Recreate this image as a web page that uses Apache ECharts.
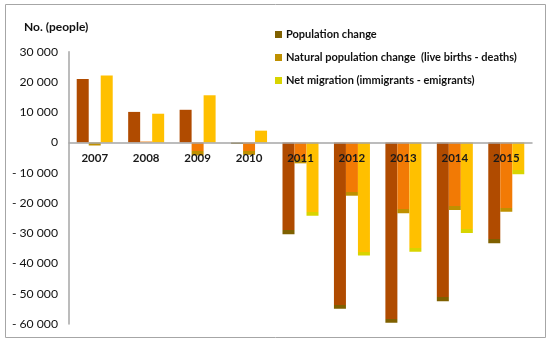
<!DOCTYPE html>
<html><head><meta charset="utf-8">
<script src="https://cdn.jsdelivr.net/npm/echarts@6/dist/echarts.min.js"></script>
<style>html,body{margin:0;padding:0;background:#fff}#c{width:550px;height:344px}</style>
</head><body><div id="c"></div>
<script>
const years = ['2007','2008','2009','2010','2011','2012','2013','2014','2015'];
const populationChange = [21000, 10100, 10800, -500, -30300, -55000, -59600, -52500, -33300];
const naturalChange = [-1000, 300, -4300, -4100, -6900, -17600, -23400, -22300, -22900];
const netMigration = [22100, 9500, 15600, 3900, -24200, -37400, -36100, -29900, -10500];
const seriesNames = ['Population change', 'Natural population change  (live births - deaths)', 'Net migration (immigrants - emigrants)'];
const yMin = -60000, yMax = 30000, yStep = 10000;

const FONT = 'Lato, "Open Sans", sans-serif';
const mainColors = ['#B04B00', '#F27A05', '#FFC000'];
const endColors = ['#7F6000', '#BF9000', '#D8D400'];
const gridTop = 51.7, gridBottom = 20, H = 344;
const plotH = H - gridTop - gridBottom;
const pxPerUnit = plotH / (yMax - yMin);
const zeroOffset = -(0 - yMin) * pxPerUnit;

function styledData(vals, i) {
  return vals.map(v => {
    const h = Math.abs(v) * pxPerUnit;
    if (v >= 0 || h < 6) {
      return { value: v, itemStyle: { color: v < 0 && h < 6 ? endColors[i] : mainColors[i] } };
    }
    const s = Math.max(0, 1 - 4 / h);
    return {
      value: v,
      itemStyle: {
        color: new echarts.graphic.LinearGradient(0, 0, 0, 1, [
          { offset: 0, color: mainColors[i] },
          { offset: s, color: mainColors[i] },
          { offset: Math.min(1, s + 0.001), color: endColors[i] },
          { offset: 1, color: endColors[i] }
        ])
      }
    };
  });
}

function fmt(v) {
  const a = Math.abs(v);
  let s = a >= 1000 ? Math.floor(a / 1000) + ' ' + String(a % 1000).padStart(3, '0') : String(a);
  return v < 0 ? '- ' + s : s;
}

const chart = echarts.init(document.getElementById('c'), null, { renderer: 'canvas' });
chart.setOption({
  animation: false,
  backgroundColor: '#fff',
  graphic: [
    { type: 'rect', shape: { x: 5.5, y: 4.5, width: 540, height: 333 }, style: { fill: 'none', stroke: '#a6a6a6', lineWidth: 1 }, z: -1 },
    { type: 'text', left: 24, top: 21, style: { text: 'No. (people)', font: 'bold 12px ' + FONT, fill: '#111' } }
  ],
  legend: {
    orient: 'vertical',
    left: 270,
    top: 24,
    itemWidth: 7,
    itemHeight: 7,
    itemGap: 12,
    icon: 'rect',
    selectedMode: false,
    textStyle: { fontFamily: FONT, fontWeight: 'bold', fontSize: 11, color: '#111', padding: [0, 0, 0, -1] },
    data: seriesNames.map((n, i) => ({ name: n, itemStyle: { color: endColors[i] } }))
  },
  grid: { left: 69, right: 18, top: gridTop, bottom: gridBottom, containLabel: false },
  xAxis: {
    type: 'category',
    data: years,
    z: 10,
    offset: zeroOffset,
    axisLine: { onZero: false, lineStyle: { color: '#a6a6a6', width: 1.5 } },
    axisTick: { show: false },
    axisLabel: { fontFamily: FONT, fontWeight: 'bold', fontSize: 11.5, color: '#1a1a1a', margin: 10 }
  },
  yAxis: {
    type: 'value',
    min: yMin,
    max: yMax,
    interval: yStep,
    axisLine: { show: true, lineStyle: { color: '#a6a6a6', width: 1.5 } },
    axisTick: { show: false },
    splitLine: { show: false },
    axisLabel: { fontFamily: FONT, fontSize: 12.2, color: '#111', margin: 11, formatter: v => fmt(v) }
  },
  series: [populationChange, naturalChange, netMigration].map((vals, i) => ({
    name: seriesNames[i],
    type: 'bar',
    barWidth: 12,
    barGap: '0%',
    color: endColors[i],
    data: styledData(vals, i)
  }))
});
</script></body></html>
